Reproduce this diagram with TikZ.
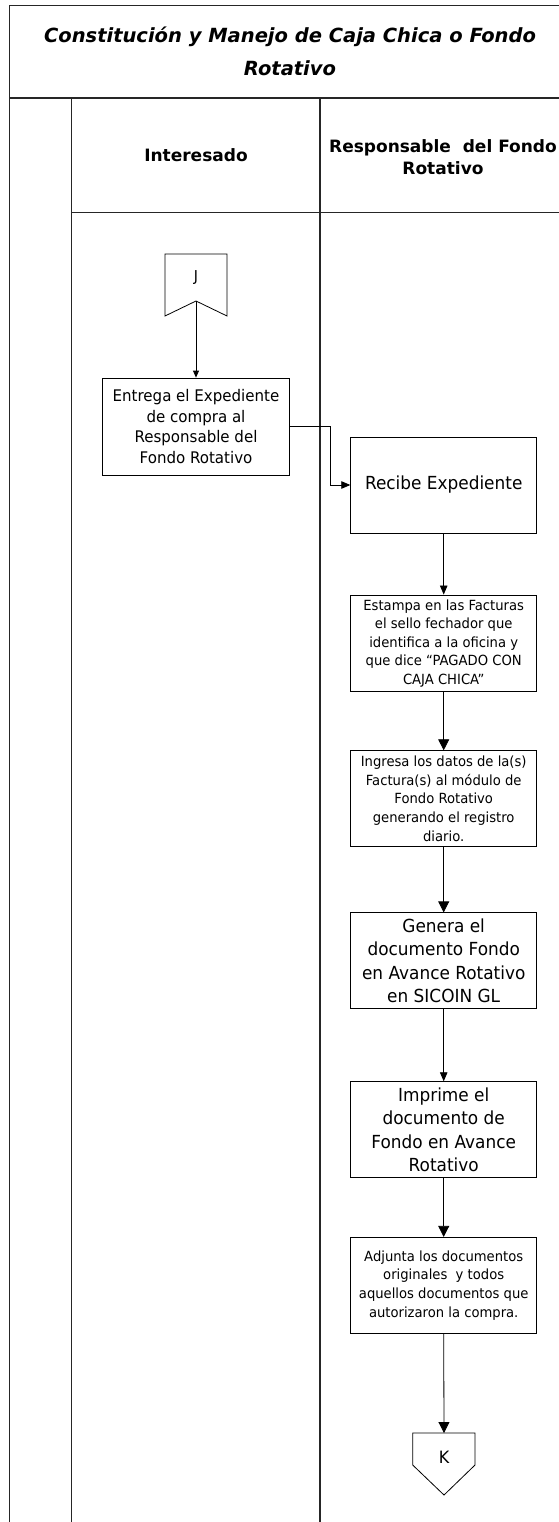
\documentclass[tikz,border=0pt]{standalone}
\usepackage{fontspec}
\setmainfont{DejaVu Sans}
\newfontfamily\boxfont[FakeStretch=0.94]{DejaVu Sans}
\usetikzlibrary{arrows.meta}

\begin{document}
\begin{tikzpicture}[x=1pt, y=-1pt,
  frame/.style={draw=black!85, line width=1.3pt},
  outline/.style={draw=black, line width=0.8pt},
  stepbox/.style={outline, minimum width=186pt, minimum height=96pt,
    inner sep=0pt, align=center},
  txtS/.style={font=\boxfont\fontsize{14}{18.6}\selectfont},
  txtM/.style={font=\boxfont\fontsize{16}{20.7}\selectfont},
  txtL/.style={font=\boxfont\fontsize{18}{23.3}\selectfont},
  flowS/.style={draw=black, line width=0.8pt, -{Triangle[length=7pt,width=6pt]}},
  flowM/.style={draw=black, line width=0.8pt, -{Triangle[length=9pt,width=7.5pt]}},
  flowL/.style={draw=black, line width=0.8pt, -{Triangle[length=11pt,width=11pt]}}
]
\useasboundingbox (0,0) rectangle (558,1522);
\fill[white] (0,0) rectangle (558,1522);

% table frame and swimlanes
\draw[frame] (570,5.7) -- (9.3,5.7) -- (9.3,1530);
\draw[frame] (9.3,98) -- (570,98);
\draw[frame] (71.7,98) -- (71.7,1530);
\draw[frame] (320,98) -- (320,1530);
\draw[frame] (71.7,212.7) -- (570,212.7);

% title and lane headers
\node[align=center, font=\bfseries\itshape\fontsize{19.5}{33}\selectfont] (title) at (290,51)
  {Constitución y Manejo de Caja Chica o Fondo\\Rotativo};
\node[font=\bfseries\fontsize{17}{22.5}\selectfont] (laneA) at (196,155) {Interesado};
\node[align=center, font=\bfseries\fontsize{17}{22.5}\selectfont] (laneB) at (443,157)
  {Responsable\ \ del Fondo\\Rotativo};

% incoming page connector J
\draw[outline] (165,254) -- (227,254) -- (227,316) -- (196,301) -- (165,316) -- cycle;
\node[font=\boxfont\fontsize{15}{18}\selectfont] (J) at (196,278) {J};
\coordinate (Jtip) at (196,301);

% process steps
\node[stepbox, txtM, minimum width=186.6pt, minimum height=97pt] (entrega) at (196,426.5)
  {Entrega el Expediente\\de compra al\\Responsable del\\Fondo Rotativo};
\node[stepbox, txtL] (recibe) at (443.7,485) {Recibe Expediente};
\node[stepbox, txtS, minimum height=96.7pt] (estampa) at (443.7,643.3)
  {Estampa en las Facturas\\el sello fechador que\\identifica a la oficina y\\que dice “PAGADO CON\\CAJA CHICA”};
\node[stepbox, txtS] (ingresa) at (443.7,798.7)
  {Ingresa los datos de la(s)\\Factura(s) al módulo de\\Fondo Rotativo\\generando el registro\\diario.};
\node[stepbox, txtL] (genera) at (443.7,960.8)
  {Genera el\\documento Fondo\\en Avance Rotativo\\en SICOIN GL};
\node[stepbox, txtL] (imprime) at (443.7,1129.7)
  {Imprime el\\documento de\\Fondo en Avance\\Rotativo};
\node[stepbox, txtS] (adjunta) at (443.7,1285.3)
  {Adjunta los documentos\\originales\ \ y todos\\aquellos documentos que\\autorizaron la compra.};

% outgoing page connector K
\draw[outline] (412.7,1433) -- (475,1433) -- (475,1465) -- (444,1495) -- (412.7,1465) -- cycle;
\node[font=\boxfont\fontsize{17}{20}\selectfont] (K) at (444,1457) {K};
\coordinate (Ktop) at (444,1433);

% flow
\draw[flowS] (Jtip) -- (entrega.north);
\draw[flowM] (entrega.east) -- ++(40.7,0) |- (recibe.west);
\draw[flowM] (recibe.south) -- (estampa.north);
\draw[flowL] (estampa.south) -- (ingresa.north);
\draw[flowL] (ingresa.south) -- (genera.north);
\draw[flowM] (genera.south) -- (imprime.north);
\draw[flowL] (imprime.south) -- (adjunta.north);
\draw[flowL] (adjunta.south) -- (Ktop);
\end{tikzpicture}
\end{document}
